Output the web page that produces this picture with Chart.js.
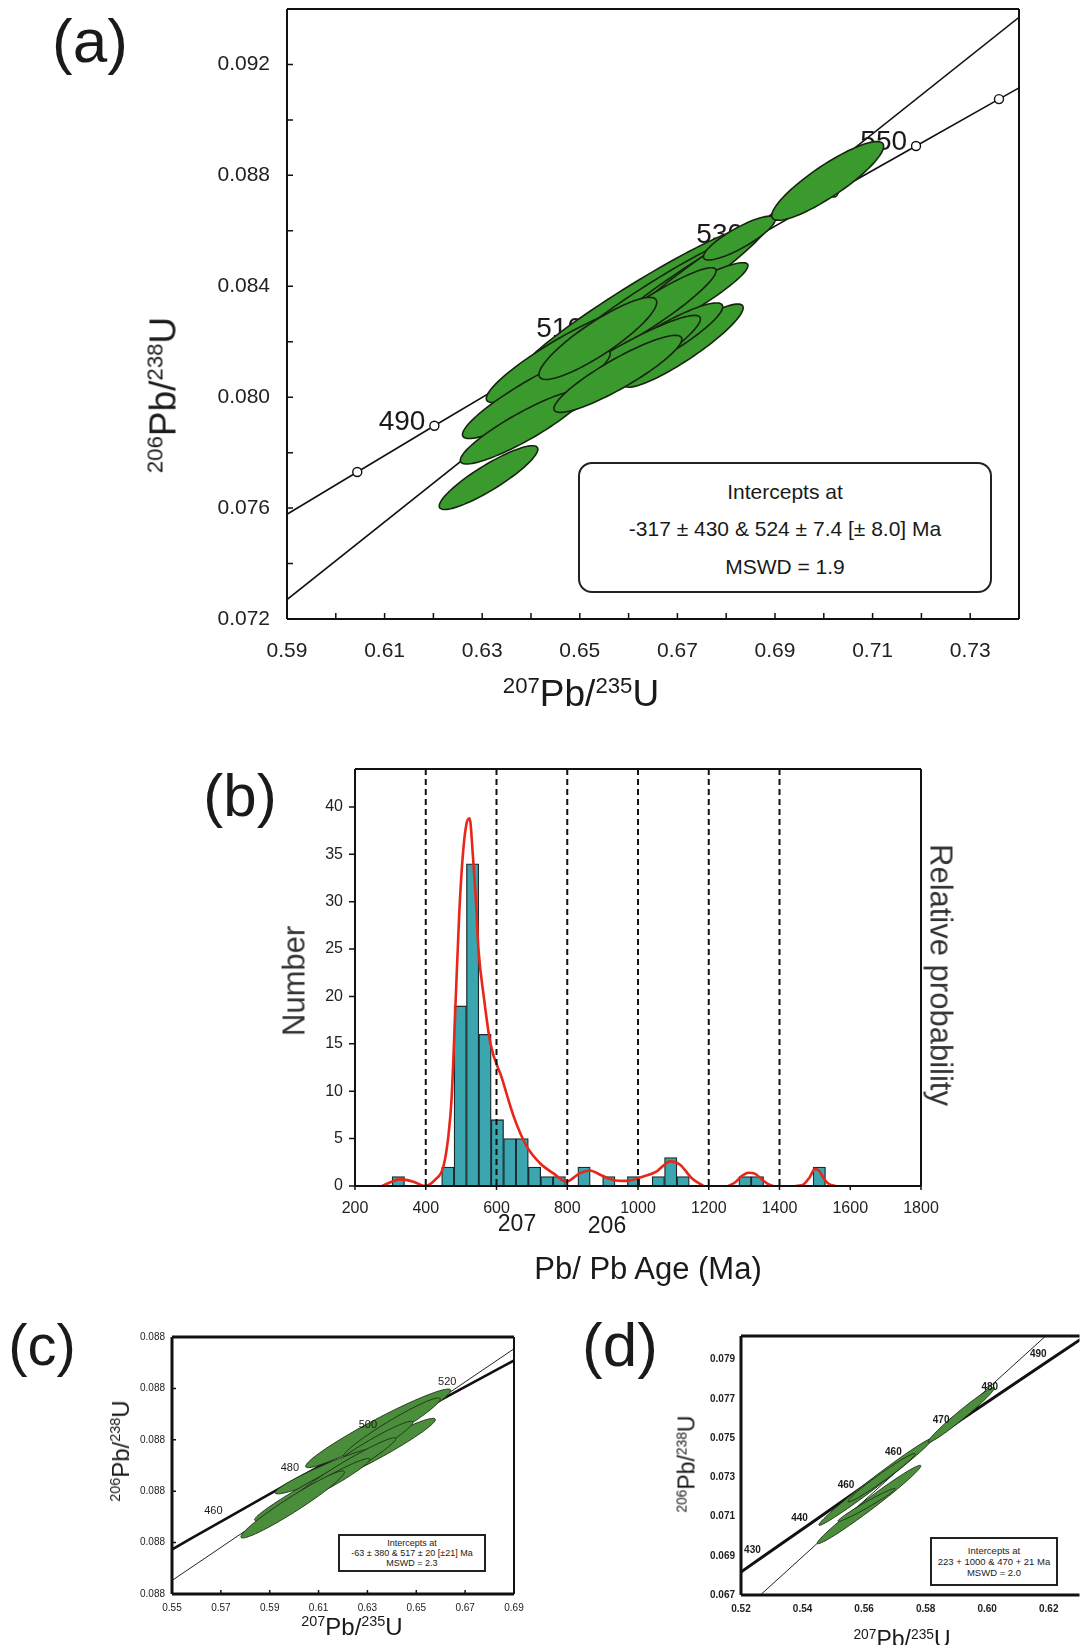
<!DOCTYPE html>
<html>
<head>
<meta charset="utf-8">
<script src="https://cdn.jsdelivr.net/npm/chart.js@4.4.1/dist/chart.umd.min.js"></script>
<style>
body { margin:0; background:#fff; width:1081px; height:1645px; position:relative; overflow:hidden;
       font-family:"Liberation Sans", Arial, sans-serif; color:#1a1a1a; }
canvas { position:absolute; }
.c { position:absolute; transform:translate(-50%,-50%); white-space:nowrap; line-height:1; }
.up { transform:translate(-50%,-50%) rotate(-90deg); }
.down { transform:translate(-50%,-50%) rotate(90deg); }
.s { font-size:60%; position:relative; top:-0.6em; }
.box { position:absolute; border:2px solid #222; text-align:center; background:#fff; }
</style>
</head>
<body>
<canvas id="ca" width="1081" height="720" style="left:0;top:0"></canvas>
<canvas id="cb" width="1081" height="580" style="left:0;top:720px"></canvas>
<canvas id="cc" width="540" height="345" style="left:0;top:1300px"></canvas>
<canvas id="cd" width="541" height="345" style="left:540px;top:1300px"></canvas>

<!-- panel letters and axis titles -->
<div class="c" style="left:90px;top:41px;font-size:62px">(a)</div>
<div class="c" style="left:240px;top:796px;font-size:60px">(b)</div>
<div class="c" style="left:42px;top:1345px;font-size:58px">(c)</div>
<div class="c" style="left:620px;top:1345px;font-size:62px">(d)</div>

<div class="c up" style="left:163px;top:395px;font-size:37px"><span class="s">206</span>Pb/<span class="s">238</span>U</div>
<div class="c" style="left:581px;top:693px;font-size:37px"><span class="s">207</span>Pb/<span class="s">235</span>U</div>

<div class="box" style="left:578px;top:462px;width:410px;height:127px;border-radius:14px;font-size:21px">
  <div style="margin-top:16px">Intercepts at</div>
  <div style="margin-top:13px">-317 ± 430 &amp; 524 ± 7.4 [± 8.0] Ma</div>
  <div style="margin-top:14px">MSWD = 1.9</div>
</div>

<div class="c up" style="left:294px;top:981px;font-size:31px;color:#333">Number</div>
<div class="c down" style="left:941px;top:975px;font-size:31px;color:#333">Relative probability</div>
<div class="c" style="left:517px;top:1223px;font-size:23px">207</div>
<div class="c" style="left:607px;top:1225px;font-size:23px">206</div>
<div class="c" style="left:648px;top:1268px;font-size:31px">Pb/ Pb Age (Ma)</div>

<div class="c up" style="left:121px;top:1451px;font-size:24px"><span class="s">206</span>Pb/<span class="s">238</span>U</div>
<div class="c" style="left:352px;top:1627px;font-size:24px"><span class="s">207</span>Pb/<span class="s">235</span>U</div>
<div class="box" style="left:338px;top:1534px;width:144px;height:34px;border-width:2.5px;font-size:9px;line-height:10px">
  <div style="margin-top:2px">Intercepts at</div>
  <div>-63 ± 380 &amp; 517 ± 20 [±21] Ma</div>
  <div>MSWD = 2.3</div>
</div>

<div class="c up" style="left:687px;top:1464px;font-size:23px"><span class="s">206</span>Pb/<span class="s">238</span>U</div>
<div class="c" style="left:902px;top:1639px;font-size:23px"><span class="s">207</span>Pb/<span class="s">235</span>U</div>
<div class="box" style="left:930px;top:1537px;width:124px;height:45px;border-width:2.5px;font-size:9.5px;line-height:11px">
  <div style="margin-top:6px">Intercepts at</div>
  <div>223 + 1000 &amp; 470 + 21 Ma</div>
  <div>MSWD = 2.0</div>
</div>

<script>
// concordia points (age in Ma, 207Pb/235U, 206Pb/238U)
const concAge = [420, 430, 440, 450, 460, 470, 480, 490, 500, 510, 520, 530, 540, 550, 560, 570];
const concX = [0.5123, 0.5273, 0.5426, 0.5577, 0.5731, 0.5886, 0.6044, 0.6202, 0.6363, 0.6525, 0.6688, 0.6853, 0.7020, 0.7189, 0.7359, 0.7531];
const concY = [0.06732, 0.06898, 0.07064, 0.07230, 0.07397, 0.07563, 0.07730, 0.07897, 0.08065, 0.08233, 0.08401, 0.08569, 0.08738, 0.08906, 0.09075, 0.09245];

// (a) Concordia, main sample
const aDiscX = [0.59, 0.74];
const aDiscY = [0.0727, 0.0937];
const aLabelAges = [490, 510, 530, 550];
const aEllX   = [0.6612, 0.6655, 0.6696, 0.6735, 0.6827, 0.6687, 0.6634, 0.6712, 0.6666, 0.6561, 0.6466, 0.6411, 0.6383, 0.6578, 0.6537, 0.6313, 0.7008];
const aEllY   = [0.08352, 0.08365, 0.08390, 0.08434, 0.08574, 0.08323, 0.08296, 0.08186, 0.08201, 0.08093, 0.08152, 0.08011, 0.07892, 0.08084, 0.08212, 0.07710, 0.08780];
const aEllSx  = [0.02271, 0.01985, 0.0178, 0.01555, 0.00737, 0.01576, 0.01453, 0.01228, 0.01269, 0.01862, 0.01576, 0.01514, 0.01279, 0.0131, 0.01207, 0.0101, 0.01146];
const aEllSy  = [0.00252, 0.00224, 0.0022, 0.00202, 0.00079, 0.00162, 0.00171, 0.0015, 0.00139, 0.00202, 0.00171, 0.0016, 0.00133, 0.00139, 0.00148, 0.00115, 0.00142];
const aEllRho = [0.97, 0.965, 0.97, 0.965, 0.85, 0.935, 0.935, 0.91, 0.90, 0.935, 0.915, 0.91, 0.90, 0.90, 0.88, 0.89, 0.88];
const aXTicks = [0.59, 0.60, 0.61, 0.62, 0.63, 0.64, 0.65, 0.66, 0.67, 0.68, 0.69, 0.70, 0.71, 0.72, 0.73];
const aXLabels = ['0.59', '', '0.61', '', '0.63', '', '0.65', '', '0.67', '', '0.69', '', '0.71', '', '0.73'];
const aYTicks = [0.072, 0.074, 0.076, 0.078, 0.080, 0.082, 0.084, 0.086, 0.088, 0.090, 0.092];
const aYLabels = ['0.072', '', '0.076', '', '0.080', '', '0.084', '', '0.088', '', '0.092'];

// (b) age histogram (bin mid, count) and probability curve
const bBinMid = [322.5, 462.5, 497.5, 532.5, 567.5, 602.5, 637.5, 672.5, 707.5, 742.5, 777.5, 847.5, 917.5, 987.5, 1057.5, 1092.5, 1127.5, 1302.5, 1337.5, 1512.5];
const bCount  = [1, 2, 19, 34, 16, 7, 5, 5, 2, 1, 1, 2, 1, 1, 1, 3, 1, 1, 1, 2];
const bCurveAge = [277, 300, 327, 365, 398, 426, 450, 464, 473, 485, 495, 505, 515, 524, 533, 542, 549, 564, 583, 615, 648, 685, 723, 760, 798, 836, 864, 893, 930, 968, 1015, 1053, 1070, 1091, 1119, 1152, 1185,
                   1220, 1255, 1275, 1295, 1312, 1330, 1350, 1368, 1382, 1415, 1445, 1465, 1485, 1500, 1512, 1525, 1540, 1558];
const bCurveVal = [0, 0.4, 0.7, 0.46, 0, 0.64, 2.07, 5.3, 9.2, 20, 29, 35, 38.2, 38.8, 35, 30, 25, 20, 15, 11.4, 7.4, 4.2, 2.4, 1.36, 0.46, 1.36, 1.64, 1.18, 0.64, 0.54, 1.0, 1.54, 2.1, 2.6, 2.25, 0.82, 0,
                   null, 0, 0.4, 1.1, 1.4, 1.3, 0.7, 0.2, 0, null, 0, 0.1, 0.9, 1.8, 1.6, 0.8, 0.2, 0];
const bDividers = [400, 600, 800, 1000, 1200, 1400];
const bXTicks = [200, 400, 600, 800, 1000, 1200, 1400, 1600, 1800];
const bYTicks = [0, 5, 10, 15, 20, 25, 30, 35, 40];

// (c)
const cDiscX = [0.55, 0.69];
const cDiscY = [0.06905, 0.08708];
const cLabelAges = [460, 480, 500, 520];
const cEllX   = [0.6344, 0.6400, 0.6320, 0.6309, 0.6134, 0.6078, 0.6204, 0.6150, 0.5994];
const cEllY   = [0.08089, 0.08095, 0.07898, 0.07940, 0.07759, 0.07629, 0.07771, 0.07680, 0.07497];
const cEllSx  = [0.0297, 0.0198, 0.0258, 0.0177, 0.0212, 0.0240, 0.0212, 0.0160, 0.0212];
const cEllSy  = [0.00306, 0.00231, 0.00269, 0.00204, 0.0018, 0.00258, 0.00245, 0.00175, 0.00261];
const cEllRho = [0.965, 0.962, 0.965, 0.96, 0.95, 0.975, 0.972, 0.96, 0.965];
const cXTicks = [0.55, 0.57, 0.59, 0.61, 0.63, 0.65, 0.67, 0.69];
const cYTicks = [0.068, 0.072, 0.076, 0.080, 0.084, 0.088];
const cYLabels = ['0.088', '0.088', '0.088', '0.088', '0.088', '0.088'];

// (d)
const dDiscX = [0.5263, 0.619];
const dDiscY = [0.067, 0.0802];
const dLabelAges = [430, 440, 450, 460, 470, 480, 490];
const dLabelText = ['430', '440', '460', '460', '470', '480', '490'];
const dEllX   = [0.5638, 0.5657, 0.5916, 0.5616, 0.5608];
const dEllY   = [0.07277, 0.07298, 0.07618, 0.07161, 0.07159];
const dEllSx  = [0.0185, 0.0109, 0.01076, 0.01683, 0.0093];
const dEllSy  = [0.00222, 0.00123, 0.0014, 0.0020, 0.00084];
const dEllRho = [0.99, 0.98, 0.98, 0.985, 0.98];
const dXTicks = [0.52, 0.54, 0.56, 0.58, 0.60, 0.62];
const dYTicks = [0.067, 0.069, 0.071, 0.073, 0.075, 0.077, 0.079];

const NARROW = '"Liberation Sans Narrow", "Liberation Sans", Arial, sans-serif';
const SANS = '"Liberation Sans", Arial, sans-serif';

function pts(xs, ys) { return xs.map((x, i) => ({ x: x, y: ys[i] })); }

// fixed-size axis; label overhang is ignored so the plot area stays put
function axis(min, max, ticks, labels, font, pad, size) {
  return {
    type: 'linear', min: min, max: max, offset: false,
    afterBuildTicks: s => { s.ticks = ticks.map(v => ({ value: v })); },
    afterFit: s => {
      if (s.isHorizontal()) { s.height = size; s.paddingLeft = 0; s.paddingRight = 0; }
      else { s.width = size; s.paddingTop = 0; s.paddingBottom = 0; }
    },
    grid: { display: false, drawTicks: false },
    border: { display: false },
    ticks: { autoSkip: false, maxRotation: 0, font: font, color: '#222', padding: pad,
             callback: (v, i) => labels[i] }
  };
}

function frame(ctx, a, w) {
  ctx.strokeStyle = '#111';
  ctx.lineWidth = w.left; ctx.beginPath(); ctx.moveTo(a.left, a.top); ctx.lineTo(a.left, a.bottom); ctx.stroke();
  ctx.lineWidth = w.bottom; ctx.beginPath(); ctx.moveTo(a.left, a.bottom); ctx.lineTo(a.right, a.bottom); ctx.stroke();
  ctx.lineWidth = w.top; ctx.beginPath(); ctx.moveTo(a.left, a.top); ctx.lineTo(a.right, a.top); ctx.stroke();
  if (w.right) { ctx.lineWidth = w.right; ctx.beginPath(); ctx.moveTo(a.right, a.top); ctx.lineTo(a.right, a.bottom); ctx.stroke(); }
}

// len > 0 points into the plot
function tickMarks(ctx, scale, a, len, side) {
  ctx.lineWidth = 1.5; ctx.strokeStyle = '#111';
  ctx.beginPath();
  scale.ticks.forEach(t => {
    const p = scale.getPixelForValue(t.value);
    if (side === 'x') { ctx.moveTo(p, a.bottom); ctx.lineTo(p, a.bottom - len); }
    else { ctx.moveTo(a.left, p); ctx.lineTo(a.left + len, p); }
  });
  ctx.stroke();
}

function ellipses(chart, ex, ey, sx, sy, rho, fill, stroke, lw) {
  const ctx = chart.ctx, xs = chart.scales.x, ys = chart.scales.y;
  ctx.fillStyle = fill; ctx.strokeStyle = stroke; ctx.lineWidth = lw;
  ex.forEach((cx, i) => {
    const k = Math.sqrt(1 - rho[i] * rho[i]);
    ctx.beginPath();
    for (let j = 0; j <= 90; j++) {
      const t = j / 90 * 2 * Math.PI;
      const px = xs.getPixelForValue(cx + sx[i] * Math.cos(t));
      const py = ys.getPixelForValue(ey[i] + sy[i] * (rho[i] * Math.cos(t) + k * Math.sin(t)));
      if (j) ctx.lineTo(px, py); else ctx.moveTo(px, py);
    }
    ctx.closePath(); ctx.fill(); ctx.stroke();
  });
}

function ageLabels(chart, ages, texts, font, dx, dy, align) {
  const ctx = chart.ctx, xs = chart.scales.x, ys = chart.scales.y;
  ctx.font = font; ctx.fillStyle = '#1a1a1a'; ctx.textAlign = align; ctx.textBaseline = 'alphabetic';
  ages.forEach((age, i) => {
    const k = concAge.indexOf(age);
    ctx.fillText(texts[i], xs.getPixelForValue(concX[k]) + dx, ys.getPixelForValue(concY[k]) + dy);
  });
}

function clipArea(ctx, a) {
  ctx.beginPath(); ctx.rect(a.left, a.top, a.right - a.left, a.bottom - a.top); ctx.clip();
}

// nudge layout padding so that the plot area sits where the figure has it
function pin(chart, L, T, R, B) {
  for (let n = 0; n < 2; n++) {
    const a = chart.chartArea, p = chart.config.options.layout.padding;
    p.left += L - a.left; p.top += T - a.top; p.right += a.right - R; p.bottom += a.bottom - B;
    chart.update();
  }
}

const base = () => ({ responsive: false, animation: false, events: [],
               plugins: { legend: { display: false }, tooltip: { enabled: false } } });

// ---------- (a) ----------
const chartA = new Chart(document.getElementById('ca'), {
  type: 'line',
  data: { datasets: [
    { data: pts(concX, concY), borderColor: '#111', borderWidth: 1.6, pointRadius: 4.5,
      pointBackgroundColor: '#fff', pointBorderColor: '#111', pointBorderWidth: 1.4 },
    { data: pts(aDiscX, aDiscY), borderColor: '#111', borderWidth: 1.6, pointRadius: 0 }
  ] },
  options: Object.assign(base(), {
    layout: { padding: { left: 187, top: 9, right: 62, bottom: 41 } },
    scales: {
      x: axis(0.59, 0.74, aXTicks, aXLabels, { family: SANS, size: 21 }, 20, 60),
      y: axis(0.072, 0.094, aYTicks, aYLabels, { family: SANS, size: 21 }, 17, 100)
    }
  }),
  plugins: [{ id: 'pa', afterDatasetsDraw(chart) {
    const ctx = chart.ctx, a = chart.chartArea;
    ctx.save(); clipArea(ctx, a);
    ageLabels(chart, aLabelAges, aLabelAges.map(String), '28px ' + NARROW, -9, 4, 'right');
    ellipses(chart, aEllX, aEllY, aEllSx, aEllSy, aEllRho, '#3a9a2e', '#17240f', 1.6);
    ctx.restore();
    ctx.save();
    frame(ctx, a, { left: 2, bottom: 2, top: 2, right: 2 });
    tickMarks(ctx, chart.scales.x, a, 6, 'x');
    tickMarks(ctx, chart.scales.y, a, 6, 'y');
    ctx.restore();
  } }]
});
pin(chartA, 287, 9, 1019, 619);

// ---------- (b) ----------
const chartB = new Chart(document.getElementById('cb'), {
  type: 'bar',
  data: { datasets: [
    { type: 'line', data: pts(bCurveAge, bCurveVal), borderColor: '#e8261a', borderWidth: 2.6,
      pointRadius: 0, cubicInterpolationMode: 'monotone', spanGaps: false },
    { type: 'bar', data: pts(bBinMid, bCount), backgroundColor: '#3ba5b0', borderColor: '#1d2a2c',
      borderWidth: 1.3, borderSkipped: false, barPercentage: 1, categoryPercentage: 1 }
  ] },
  options: Object.assign(base(), {
    layout: { padding: { left: 295, top: 49, right: 160, bottom: 64 } },
    scales: {
      x: axis(200, 1800, bXTicks, bXTicks.map(String), { family: NARROW, size: 16 }, 13, 50),
      y: axis(0, 44, bYTicks, bYTicks.map(String), { family: NARROW, size: 16 }, 12, 60)
    }
  }),
  plugins: [{ id: 'pb', afterDatasetsDraw(chart) {
    const ctx = chart.ctx, a = chart.chartArea, xs = chart.scales.x;
    ctx.save();
    ctx.setLineDash([6, 4]); ctx.lineWidth = 2; ctx.strokeStyle = '#111';
    bDividers.forEach(v => {
      const p = xs.getPixelForValue(v);
      ctx.beginPath(); ctx.moveTo(p, a.top); ctx.lineTo(p, a.bottom); ctx.stroke();
    });
    ctx.setLineDash([]);
    frame(ctx, a, { left: 2, bottom: 2, top: 2, right: 2 });
    tickMarks(ctx, chart.scales.y, a, -6, 'y');
    tickMarks(ctx, xs, a, -4, 'x');
    ctx.restore();
  } }]
});
pin(chartB, 355, 49, 921, 466);

// ---------- (c) ----------
const chartC = new Chart(document.getElementById('cc'), {
  type: 'line',
  data: { datasets: [
    { data: pts(concX, concY), borderColor: '#111', borderWidth: 2.6, pointRadius: 0 },
    { data: pts(cDiscX, cDiscY), borderColor: '#222', borderWidth: 1, pointRadius: 0 }
  ] },
  options: Object.assign(base(), {
    layout: { padding: { left: 132, top: 37, right: 26, bottom: 31 } },
    scales: {
      x: axis(0.55, 0.69, cXTicks, cXTicks.map(v => v.toFixed(2)), { family: NARROW, size: 10 }, 8, 20),
      y: axis(0.068, 0.088, cYTicks, cYLabels, { family: NARROW, size: 10 }, 7, 40)
    }
  }),
  plugins: [{ id: 'pc', afterDatasetsDraw(chart) {
    const ctx = chart.ctx, a = chart.chartArea;
    ctx.save(); clipArea(ctx, a);
    ellipses(chart, cEllX, cEllY, cEllSx, cEllSy, cEllRho, '#4a8d3a', '#1e2e18', 0.9);
    ageLabels(chart, cLabelAges, cLabelAges.map(String), '11px ' + NARROW, -15, -3, 'center');
    ctx.restore();
    ctx.save();
    frame(ctx, a, { left: 3, bottom: 3, top: 3, right: 2 });
    tickMarks(ctx, chart.scales.x, a, 4, 'x');
    tickMarks(ctx, chart.scales.y, a, 4, 'y');
    ctx.restore();
  } }]
});
pin(chartC, 172, 37, 514, 294);

// ---------- (d) ----------
const chartD = new Chart(document.getElementById('cd'), {
  type: 'line',
  data: { datasets: [
    { data: pts(concX, concY), borderColor: '#111', borderWidth: 3, pointRadius: 0 },
    { data: pts(dDiscX, dDiscY), borderColor: '#222', borderWidth: 1, pointRadius: 0 }
  ] },
  options: Object.assign(base(), {
    layout: { padding: { left: 161, top: 36, right: 0, bottom: 30 } },
    scales: {
      x: axis(0.52, 0.63, dXTicks, dXTicks.map(v => v.toFixed(2)), { family: NARROW, size: 10, weight: 'bold' }, 8, 20),
      y: axis(0.067, 0.0802, dYTicks, dYTicks.map(v => v.toFixed(3)), { family: NARROW, size: 10, weight: 'bold' }, 6, 40)
    }
  }),
  plugins: [{ id: 'pd', afterDatasetsDraw(chart) {
    const ctx = chart.ctx, a = chart.chartArea;
    ctx.save(); clipArea(ctx, a);
    ellipses(chart, dEllX, dEllY, dEllSx, dEllSy, dEllRho, '#4a8d3a', '#1e2e18', 0.9);
    ageLabels(chart, dLabelAges, dLabelText, 'bold 10px ' + NARROW, -11, -3, 'center');
    ctx.restore();
    ctx.save();
    frame(ctx, a, { left: 3, bottom: 3, top: 3, right: 0 });
    ctx.restore();
  } }]
});
pin(chartD, 201, 36, 541, 295);
</script>
</body>
</html>
